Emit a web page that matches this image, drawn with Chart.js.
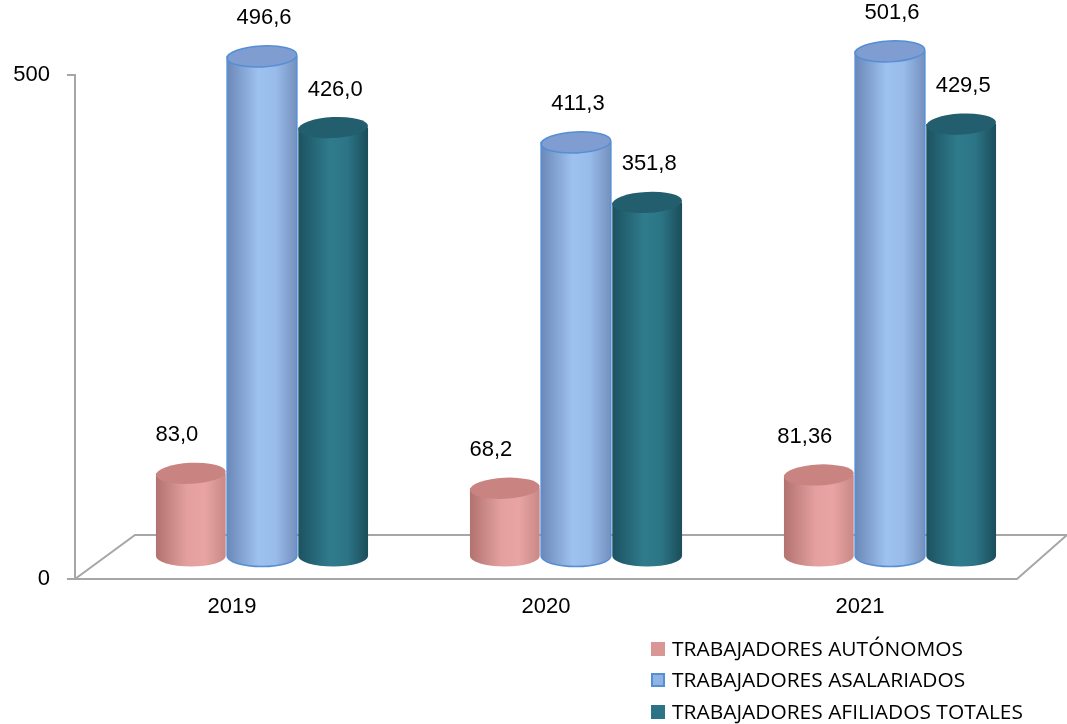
<!DOCTYPE html>
<html>
<head>
<meta charset="utf-8">
<script src="https://cdn.jsdelivr.net/npm/chart.js@4.4.1/dist/chart.umd.min.js"></script>
<style>
html,body{margin:0;padding:0;background:#fff;}
#wrap{width:1067px;height:724px;position:relative;}
</style>
</head>
<body>
<div id="wrap"><canvas id="c"></canvas></div>
<script>
const categories = ['2019', '2020', '2021'];
const autonomos = [83.0, 68.2, 81.36];
const asalariados = [496.6, 411.3, 501.6];
const afiliados = [426.0, 351.8, 429.5];
const yTicks = [0, 500];
const seriesNames = ['TRABAJADORES AUTÓNOMOS', 'TRABAJADORES ASALARIADOS', 'TRABAJADORES AFILIADOS TOTALES'];

const styles = [
  {legend:'#d99694', border:null, top:'#c98482', grad:['#b27270','#e3a09e','#e7a4a2','#c98886'], dx:-14},
  {legend:'#8eb4e3', border:'#558ed5', top:'#7f9dd0', grad:['#6b88b8','#9ec2f0','#98bbea','#7590bd'], dx:2},
  {legend:'#2b7385', border:null, top:'#225e6d', grad:['#1c5261','#2f7b8c','#2c7586','#1b4d5a'], dx:2}
];
const DEPTH_X = 60, DEPTH_Y = -44;
const FONT = '"Liberation Sans", Arial, sans-serif';

function fmt(v){
  const s = String(v);
  const dec = s.includes('.') ? s.split('.')[1].length : 0;
  return v.toFixed(Math.max(1, dec)).replace('.', ',');
}

const cylPlugin = {
  id: 'cyl',
  beforeDatasetsDraw(chart){
    const ctx = chart.ctx, a = chart.chartArea;
    ctx.save();
    ctx.strokeStyle = '#a6a6a6';
    ctx.lineWidth = 2;
    ctx.beginPath();
    ctx.moveTo(a.left, a.bottom);
    ctx.lineTo(a.left + DEPTH_X, a.bottom + DEPTH_Y);
    ctx.lineTo(a.right + DEPTH_X - 10, a.bottom + DEPTH_Y);
    ctx.lineTo(a.right, a.bottom);
    ctx.lineTo(a.left, a.bottom);
    ctx.stroke();
    ctx.restore();
  },
  afterDatasetsDraw(chart){
    const ctx = chart.ctx;
    const labels = [];
    chart.data.datasets.forEach((ds, d) => {
      const meta = chart.getDatasetMeta(d);
      const st = styles[d];
      meta.data.forEach((el, i) => {
        const p = el.getProps(['x','y','base','width'], true);
        const cx = p.x + DEPTH_X/2;
        const topY = p.y + DEPTH_Y/2;
        const botY = p.base + DEPTH_Y/2;
        const rx = p.width*0.98/2, ry = 10.5;
        ctx.save();
        const g = ctx.createLinearGradient(cx - rx, 0, cx + rx, 0);
        g.addColorStop(0, st.grad[0]);
        g.addColorStop(0.45, st.grad[1]);
        g.addColorStop(0.7, st.grad[2]);
        g.addColorStop(1, st.grad[3]);
        ctx.beginPath();
        ctx.moveTo(cx - rx, topY);
        ctx.lineTo(cx - rx, botY);
        ctx.ellipse(cx, botY, rx, ry, 0, Math.PI, 0, true);
        ctx.lineTo(cx + rx, topY);
        ctx.closePath();
        ctx.fillStyle = g;
        ctx.fill();
        if (st.border){ ctx.strokeStyle = st.border; ctx.lineWidth = 1.5; ctx.stroke(); }
        ctx.beginPath();
        ctx.ellipse(cx, topY, rx, ry, -0.05, 0, Math.PI*2);
        ctx.fillStyle = st.top;
        ctx.fill();
        if (st.border){ ctx.strokeStyle = st.border; ctx.lineWidth = 1.5; ctx.stroke(); }
        ctx.restore();
        labels.push({x: cx + st.dx, y: topY - 38, t: fmt(ds.data[i])});
      });
    });
    ctx.save();
    ctx.fillStyle = '#000';
    ctx.font = '22px ' + FONT;
    ctx.textAlign = 'center';
    ctx.textBaseline = 'middle';
    labels.forEach(l => ctx.fillText(l.t, l.x, l.y));
    ctx.restore();
  },
  afterDraw(chart){
    const ctx = chart.ctx;
    ctx.save();
    const lf = '20px "Open Sans", Roboto, sans-serif';
    ctx.font = lf;
    const sx = 291 / ctx.measureText(seriesNames[0]).width;
    ctx.textAlign = 'left';
    ctx.textBaseline = 'middle';
    const rows = [649, 680, 712];
    seriesNames.forEach((n, i) => {
      const st = styles[i];
      ctx.fillStyle = st.legend;
      ctx.fillRect(651, rows[i] - 7, 14, 14);
      if (st.border){ ctx.strokeStyle = st.border; ctx.lineWidth = 2; ctx.strokeRect(652, rows[i] - 6, 12, 12); }
      ctx.save();
      ctx.translate(672, rows[i] + 1);
      ctx.scale(sx, 1);
      ctx.fillStyle = '#000';
      ctx.fillText(n, 0, 0);
      ctx.restore();
    });
    ctx.restore();
  }
};

new Chart(document.getElementById('c'), {
  type: 'bar',
  data: {
    labels: categories,
    datasets: [
      {label: seriesNames[0], data: autonomos, backgroundColor: 'rgba(0,0,0,0)', borderWidth: 0},
      {label: seriesNames[1], data: asalariados, backgroundColor: 'rgba(0,0,0,0)', borderWidth: 0},
      {label: seriesNames[2], data: afiliados, backgroundColor: 'rgba(0,0,0,0)', borderWidth: 0}
    ]
  },
  options: {
    responsive: true,
    maintainAspectRatio: false,
    animation: false,
    layout: {padding: {top: 75, right: 50, left: 0, bottom: 0}},
    datasets: {bar: {categoryPercentage: 0.68, barPercentage: 1.0}},
    plugins: {legend: {display: false}, tooltip: {enabled: false}},
    scales: {
      x: {
        grid: {display: false, drawTicks: false},
        border: {display: false},
        ticks: {font: {family: FONT, size: 22}, color: '#000', padding: 15},
        afterFit(s){ s.height = 145; }
      },
      y: {
        min: 0, max: 500,
        afterBuildTicks(s){ s.ticks = yTicks.map(v => ({value: v})); },
        ticks: {font: {family: FONT, size: 22}, color: '#000', padding: 17},
        grid: {drawOnChartArea: false, drawTicks: true, tickLength: 8, color: '#a6a6a6', lineWidth: 2},
        border: {display: true, color: '#a6a6a6', width: 2},
        afterFit(s){ s.width = 75; }
      }
    }
  },
  plugins: [cylPlugin]
});
</script>
</body>
</html>
